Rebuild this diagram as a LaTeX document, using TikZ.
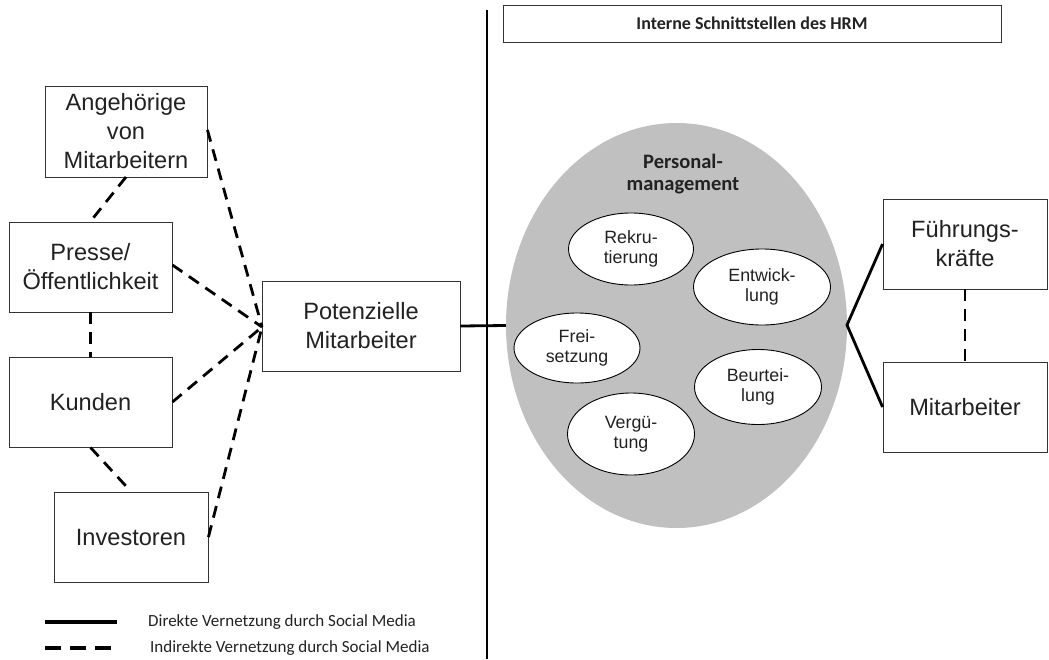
\documentclass[tikz,border=0pt]{standalone}
\usepackage{fontspec}
\setmainfont{Liberation Sans}
\newfontfamily\calfont{Carlito}
\usetikzlibrary{shapes.geometric}
\definecolor{txt}{HTML}{222222}
\definecolor{pmgrey}{HTML}{C0C0C0}
\begin{document}
\begin{tikzpicture}[x=1pt,y=-1pt,
  box/.style={draw=black!80,line width=0.9pt,fill=white,inner sep=0pt,text=txt,align=center,
    font=\fontsize{23.6}{29}\selectfont},
  sub/.style={draw=black,line width=0.9pt,fill=white,ellipse,inner sep=0pt,text=txt,align=center,
    font=\fontsize{17.8}{20.5}\selectfont},
  solidcon/.style={line width=2.8pt},
  dashcon/.style={line width=2.8pt,dash pattern=on 12pt off 8pt}]
\useasboundingbox (0,0) rectangle (1049,659);
% boxes
\node[box,minimum width=162pt,minimum height=91pt] (ang) at (126,131.5) {Angehörige\\von\\Mitarbeitern};
\node[box,minimum width=163pt,minimum height=90pt] (pre) at (90.5,267) {Presse/\\Öffentlichkeit};
\node[box,minimum width=163pt,minimum height=90pt] (kun) at (90.5,402) {Kunden};
\node[box,minimum width=154pt,minimum height=90pt] (inv) at (131,537) {Investoren};
\node[box,minimum width=198pt,minimum height=90pt] (pot) at (361,326) {Potenzielle\\Mitarbeiter};
\node[box,minimum width=164pt,minimum height=90pt] (fue) at (965,244) {Führungs-\\kräfte};
\node[box,minimum width=164pt,minimum height=90pt] (mit) at (965,407) {Mitarbeiter};
% title box
\node[draw=black!80,line width=0.9pt,minimum width=498pt,minimum height=37pt,inner sep=0pt,
  font=\calfont\bfseries\fontsize{18}{21}\selectfont,text=txt] (title) at (752,23.5) {Interne Schnittstellen des HRM};
% divider
\coordinate (vtop) at (487,10);
\coordinate (vbot) at (487,659);
\draw[line width=2pt] (vtop) -- (vbot);
% big ellipse
\node[ellipse,fill=pmgrey,minimum width=341pt,minimum height=405pt,inner sep=0pt] (pm) at (676.5,325.5) {};
\node[font=\calfont\bfseries\fontsize{20.5}{22.5}\selectfont,text=txt,align=center] (pmlabel) at (683,174) {Personal-\\management};
\node[sub,minimum width=125pt,minimum height=72pt] (rek) at (631,249) {Rekru-\\tierung};
\node[sub,minimum width=137pt,minimum height=76pt] (ent) at (762,287) {Entwick-\\lung};
\node[sub,minimum width=126pt,minimum height=70pt] (fre) at (577,348) {Frei-\\setzung};
\node[sub,minimum width=127pt,minimum height=75pt] (beu) at (758,387) {Beurtei-\\lung};
\node[sub,minimum width=127pt,minimum height=82pt] (ver) at (631,434) {Vergü-\\tung};
% connectors
\coordinate (conv) at (262,327);
\draw[dashcon] (ang.east |- 0,130) -- (conv);
\draw[dashcon] (pre.east |- 0,265) -- (conv);
\draw[dashcon] (kun.east) -- (conv);
\draw[dashcon] (inv.east) -- (conv);
\draw[dashcon] (126,177) -- (90,222);
\draw[dashcon] (pre.south) -- (kun.north);
\draw[dashcon] (kun.south) -- (inv.north);
\draw[solidcon] (pot.east) -- (pm.west);
\coordinate (fork) at (847,325);
\draw[solidcon] (fue.west) -- (fork) -- (mit.west);
\draw[dashcon] (fue.south) -- (mit.north);
% legend
\coordinate (l1a) at (45,622); \coordinate (l1b) at (117,622);
\coordinate (l2a) at (45,648); \coordinate (l2b) at (119,648);
\draw[line width=4pt] (l1a) -- (l1b);
\draw[line width=4pt,dash pattern=on 16pt off 9pt] (l2a) -- (l2b);
\node[anchor=west,font=\calfont\fontsize{17}{20}\selectfont,text=txt,inner sep=0pt] (leg1) at (148,622) {Direkte Vernetzung durch Social Media};
\node[anchor=west,font=\calfont\fontsize{17}{20}\selectfont,text=txt,inner sep=0pt] (leg2) at (150,648) {Indirekte Vernetzung durch Social Media};
\end{tikzpicture}
\end{document}
